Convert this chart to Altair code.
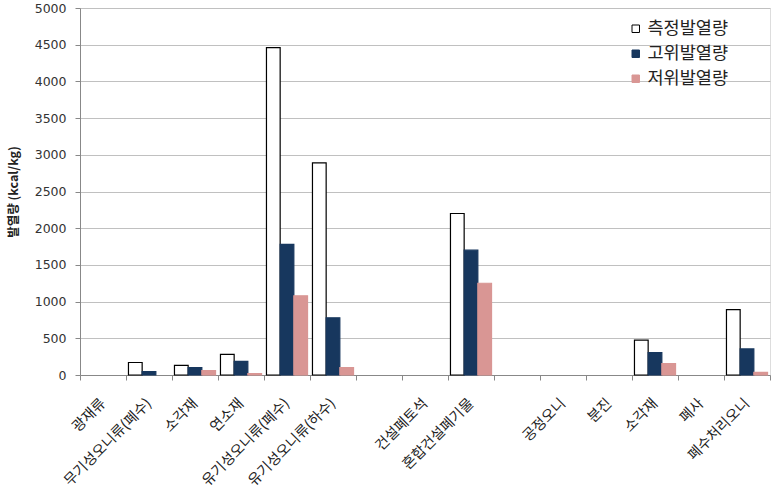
import json
import altair as alt
import pandas as pd

# 15 slots on the category axis (two blank spacer slots, as in the reference)
categories = ["광재류", "무기성오니류(폐수)", "소각재", "연소재", "유기성오니류(폐수)",
              "유기성오니류(하수)", "", "건설폐토석", "혼합건설폐기물", "", "공정오니",
              "분진", "소각재", "폐사", "폐수처리오니"]
series = ["측정발열량", "고위발열량", "저위발열량"]
measured = [0, 170, 130, 280, 4460, 2890, 0, 0, 2200, 0, 0, 0, 475, 0, 890]
high = [0, 45, 100, 185, 1780, 780, 0, 0, 1700, 0, 0, 0, 305, 0, 355]
low = [0, 0, 60, 20, 1080, 100, 0, 0, 1250, 0, 0, 0, 155, 0, 35]
y_ticks = list(range(0, 5001, 500))

fill_colors = ["#ffffff", "#17375e", "#d99694"]
stroke_colors = ["#000000", "#17375e", "#d99694"]

rows = []
for name, vals in zip(series, [measured, high, low]):
    for i, v in enumerate(vals):
        if v:
            rows.append({"slot": i, "series": name, "value": v})
df = pd.DataFrame(rows)

slots = list(range(len(categories)))
label_expr = json.dumps(categories, ensure_ascii=False) + "[datum.value]"

legend = alt.Legend(
    title=None, orient="none", legendX=547, legendY=12,
    symbolType="square", symbolSize=56, symbolStrokeWidth=1,
    labelFont="Noto Sans CJK KR", labelFontSize=17.5, labelColor="#222222",
    rowPadding=6, labelOffset=3, padding=0,
)

chart = alt.Chart(df).mark_bar(strokeWidth=1.2).encode(
    x=alt.X("slot:O",
            scale=alt.Scale(domain=slots, paddingInner=0, paddingOuter=0),
            axis=alt.Axis(title=None, labelExpr=label_expr, labelAngle=-45,
                          labelAlign="right", labelBaseline="middle",
                          tickBand="extent", tickSize=5, tickColor="#888888",
                          domainColor="#888888", labelPadding=21,
                          labelFont="Noto Sans CJK KR", labelFontSize=14.5,
                          labelColor="#222222", grid=False)),
    xOffset=alt.XOffset("series:N",
                        scale=alt.Scale(domain=series, paddingInner=0, paddingOuter=0.18)),
    y=alt.Y("value:Q",
            scale=alt.Scale(domain=[0, 5000], nice=False),
            axis=alt.Axis(values=y_ticks, format="d", title="발열량 (kcal/kg)",
                          titleFont="Noto Sans CJK KR",
                          titleFontSize=12.5, titleFontWeight="bold", titleColor="#222222",
                          titlePadding=14, labelFont="DejaVu Sans", labelFontSize=12.5,
                          labelColor="#333333", labelPadding=9, tickSize=5,
                          tickColor="#888888", domainColor="#888888",
                          gridColor="#c0c0c0", gridWidth=1)),
    fill=alt.Fill("series:N", scale=alt.Scale(domain=series, range=fill_colors), legend=legend),
    stroke=alt.Stroke("series:N", scale=alt.Scale(domain=series, range=stroke_colors), legend=legend),
).properties(
    width=690, height=367,
    autosize=alt.AutoSizeParams(type="none"),
    padding={"left": 80, "top": 8, "right": 10, "bottom": 115},
).configure_view(stroke=None).configure(background="white")

chart.save("out.html", embed_options={"renderer": "svg", "actions": False})
